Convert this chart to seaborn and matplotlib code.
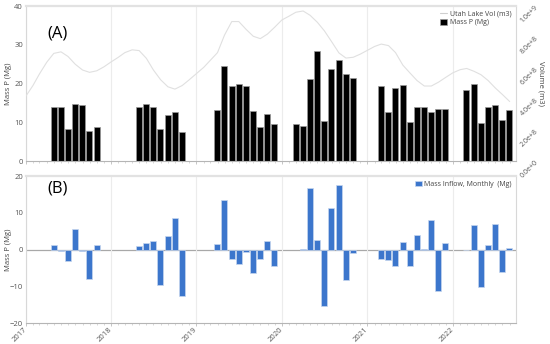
import numpy as np
import pandas as pd
import matplotlib
matplotlib.use("Agg")
import matplotlib.pyplot as plt
import matplotlib.dates as mdates
from matplotlib.lines import Line2D
from matplotlib.patches import Patch
from matplotlib.ticker import FixedLocator, FuncFormatter
import seaborn as sns

# ---------------- data ----------------
mass_months = (
    ["2017-04", "2017-05", "2017-06", "2017-07", "2017-08", "2017-09", "2017-10"]
    + ["2018-04", "2018-05", "2018-06", "2018-07", "2018-08", "2018-09", "2018-10"]
    + ["2019-03", "2019-04", "2019-05", "2019-06", "2019-07", "2019-08", "2019-09", "2019-10", "2019-11"]
    + ["2020-02", "2020-03", "2020-04", "2020-05", "2020-06", "2020-07", "2020-08", "2020-09", "2020-10"]
    + ["2021-02", "2021-03", "2021-04", "2021-05", "2021-06", "2021-07", "2021-08", "2021-09", "2021-10", "2021-11"]
    + ["2022-02", "2022-03", "2022-04", "2022-05", "2022-06", "2022-07", "2022-08"]
)
mass_p = (
    [13.9, 14.0, 8.2, 14.7, 14.5, 7.9, 8.9]
    + [14.1, 14.7, 14.1, 8.4, 11.9, 12.7, 7.6]
    + [13.3, 24.5, 19.5, 20.0, 19.3, 13.0, 8.8, 12.2, 9.5]
    + [9.6, 9.1, 21.3, 28.4, 10.3, 23.9, 26.1, 22.5, 21.5]
    + [19.4, 12.7, 18.9, 19.7, 10.2, 14.1, 14.1, 12.6, 13.5, 13.4]
    + [18.4, 19.9, 10.0, 14.1, 14.5, 10.6, 13.3]
)

inflow_months = (
    ["2017-04", "2017-05", "2017-06", "2017-07", "2017-08", "2017-09", "2017-10"]
    + ["2018-04", "2018-05", "2018-06", "2018-07", "2018-08", "2018-09", "2018-10"]
    + ["2019-03", "2019-04", "2019-05", "2019-06", "2019-07", "2019-08", "2019-09", "2019-10", "2019-11"]
    + ["2020-03", "2020-04", "2020-05", "2020-06", "2020-07", "2020-08", "2020-09", "2020-10"]
    + ["2021-02", "2021-03", "2021-04", "2021-05", "2021-06", "2021-07", "2021-08", "2021-09", "2021-10", "2021-11"]
    + ["2022-02", "2022-03", "2022-04", "2022-05", "2022-06", "2022-07", "2022-08"]
)
inflow = (
    [1.3, -0.4, -3.1, 5.5, -0.45, -7.9, 1.4]
    + [0.9, 1.8, 2.3, -9.5, 3.7, 8.6, -12.7]
    + [1.45, 13.6, -2.5, -3.8, -0.55, -6.4, -2.5, 2.5, -4.4]
    + [0.2, 16.8, 2.7, -15.2, 11.4, 17.5, -8.2, -0.9]
    + [-2.4, -2.9, -4.5, 2.1, -4.4, 3.9, 0.3, 8.2, -11.2, 1.9]
    + [-0.1, 6.6, -10.1, 1.2, 7.1, -6.0, 0.35]
)

# Utah Lake volume, first of each month Jan 2017 .. Sep 2022, in 1e8 m3
vol_first_month = "2017-01"
vol_1e8 = [
    4.18, 4.88, 5.63, 6.38, 6.95, 7.05, 6.75, 6.25, 5.88, 5.73, 5.83, 6.08,
    6.40, 6.70, 7.00, 7.18, 7.13, 6.63, 5.88, 5.25, 4.80, 4.65, 4.88, 5.25,
    5.65, 6.05, 6.50, 7.00, 8.13, 9.00, 9.00, 8.50, 8.05, 7.90, 8.20, 8.63,
    9.10, 9.35, 9.60, 9.68, 9.40, 8.95, 8.40, 7.70, 6.98, 6.65, 6.70, 6.90,
    7.15, 7.40, 7.55, 7.45, 7.00, 6.20, 5.70, 5.20, 4.85, 4.85, 5.10, 5.40,
    5.70, 5.90, 5.98, 5.80, 5.58, 5.20, 4.73, 4.30, 3.85,
]

# ---------------- style ----------------
sns.set_theme(style="white")
plt.rcParams["font.family"] = ["Open Sans", "DejaVu Sans"]

tick_col = "#555555"
spine_col = "#d8d8d8"
grid_col = "#ececec"
blue = "#3c76cc"


def month_end_num(months):
    d = pd.to_datetime(months) + pd.offsets.MonthEnd(0)
    return mdates.date2num(d)


mass_x = month_end_num(mass_months)
inflow_x = month_end_num(inflow_months)
vol_dates = pd.date_range(vol_first_month, periods=len(vol_1e8), freq="MS")
vol_x = mdates.date2num(vol_dates)
vol = np.array(vol_1e8) * 1e8

xmin = mdates.date2num(pd.Timestamp("2017-01-01"))
xmax = mdates.date2num(pd.Timestamp("2022-09-28"))

fig = plt.figure(figsize=(5.5, 3.44), dpi=100)
ax_a = fig.add_axes([0.0467, 0.531, 0.8915, 0.4515])
ax_b = fig.add_axes([0.0467, 0.060, 0.8915, 0.428])

# ---- panel A ----
sns.barplot(x=mass_x, y=mass_p, ax=ax_a, native_scale=True, orient="x",
            color="black", saturation=1, width=0.85, errorbar=None,
            edgecolor="#9a9a9a", linewidth=0.5)
ax2 = ax_a.twinx()
sns.lineplot(x=vol_x, y=vol, ax=ax2, color="#e0e0e0", linewidth=0.8)

ax_a.set_ylim(0, 40)
ax2.set_ylim(0, 1.0e9)
ax_a.set_yticks([0, 10, 20, 30, 40])
ax2.yaxis.set_major_locator(FixedLocator([0, 2e8, 4e8, 6e8, 8e8, 1e9]))


def sci_fmt(v, pos):
    if v == 0:
        return "0.0e+0"
    e = int(np.floor(np.log10(v)))
    return f"{v / 10**e:.1f}e+{e}"


ax2.yaxis.set_major_formatter(FuncFormatter(sci_fmt))
ax2.tick_params(axis="y", labelsize=5, labelcolor=tick_col, length=0, pad=2,
                labelrotation=45)
ax2.set_ylabel("Volume (m3)", fontsize=5.5, color="#444444", rotation=270,
               va="center")
ax2.yaxis.set_label_coords(1.05, 0.5)
ax_a.set_ylabel("Mass P (Mg)", fontsize=5.5, color="#444444", va="center")
ax_a.yaxis.set_label_coords(-0.036, 0.5)
ax_a.text(0.064, 0.82, "(A)", transform=ax_a.transAxes, fontsize=12,
          ha="center", va="center", color="black")

leg_a = ax2.legend(
    handles=[Line2D([0], [0], color="#cfcfcf", lw=0.8),
             Patch(facecolor="black", edgecolor="#9a9a9a", linewidth=0.5)],
    labels=["Utah Lake Vol (m3)", "Mass P (Mg)"],
    loc="upper right", bbox_to_anchor=(1.0, 1.0), frameon=False,
    fontsize=5, handlelength=1.0, handleheight=0.8, handletextpad=0.3,
    labelspacing=0.2, borderaxespad=0.3)
for t in leg_a.get_texts():
    t.set_color("#444444")

# ---- panel B ----
sns.barplot(x=inflow_x, y=inflow, ax=ax_b, native_scale=True, orient="x",
            color=blue, saturation=1, width=0.85, errorbar=None,
            edgecolor="#c6d6ef", linewidth=0.5)
ax_b.axhline(0, color="#a8a8a8", lw=0.9, zorder=0.5)
ax_b.set_ylim(-20, 20)
ax_b.set_yticks([-20, -10, 0, 10, 20])
ax_b.set_ylabel("Mass P (Mg)", fontsize=5.5, color="#444444", va="center")
ax_b.yaxis.set_label_coords(-0.036, 0.5)
ax_b.text(0.064, 0.915, "(B)", transform=ax_b.transAxes, fontsize=12,
          ha="center", va="center", color="black")
leg_b = ax_b.legend(
    handles=[Patch(facecolor=blue, edgecolor="#c6d6ef", linewidth=0.5)],
    labels=["Mass Inflow, Monthly  (Mg)"],
    loc="upper right", frameon=False, fontsize=5, handlelength=1.0,
    handleheight=0.8, handletextpad=0.3, borderaxespad=0.3)
for t in leg_b.get_texts():
    t.set_color("#444444")

# ---- shared x formatting ----
for ax in (ax_a, ax_b):
    ax.set_xlim(xmin, xmax)
    ax.xaxis.set_major_locator(mdates.YearLocator())
    ax.xaxis.set_minor_locator(mdates.MonthLocator())
    ax.xaxis.set_major_formatter(mdates.DateFormatter("%Y"))
    ax.grid(axis="x", which="major", color=grid_col, linewidth=0.8)
    ax.grid(axis="y", visible=False)
    ax.set_axisbelow(True)
    ax.tick_params(axis="y", labelsize=5.5, labelcolor=tick_col, length=0,
                   pad=2)
    ax.tick_params(axis="x", which="major", length=2.5, color="#bbbbbb",
                   width=0.6, bottom=True)
    ax.tick_params(axis="x", which="minor", length=1.5, color="#c8c8c8",
                   width=0.5, bottom=True)
    ax.set_xlabel("")
    for side in ("left", "right", "top", "bottom"):
        ax.spines[side].set_color(spine_col)
        ax.spines[side].set_linewidth(0.8)
    ax.spines["top"].set_linewidth(1.6)
    ax.spines["top"].set_color("#e2e2e2")
    ax.spines["bottom"].set_color("#b5b5b5")

for side in ("left", "right", "top", "bottom"):
    ax2.spines[side].set_visible(False)
ax2.grid(False)

ax_a.tick_params(axis="x", labelbottom=False)
ax_b.tick_params(axis="x", labelsize=5.5, labelcolor=tick_col, pad=1)
for lbl in ax_b.get_xticklabels():
    lbl.set_rotation(45)
    lbl.set_ha("right")
    lbl.set_va("center")
    lbl.set_rotation_mode("anchor")

fig.savefig("out.png", dpi=100, facecolor="white")
